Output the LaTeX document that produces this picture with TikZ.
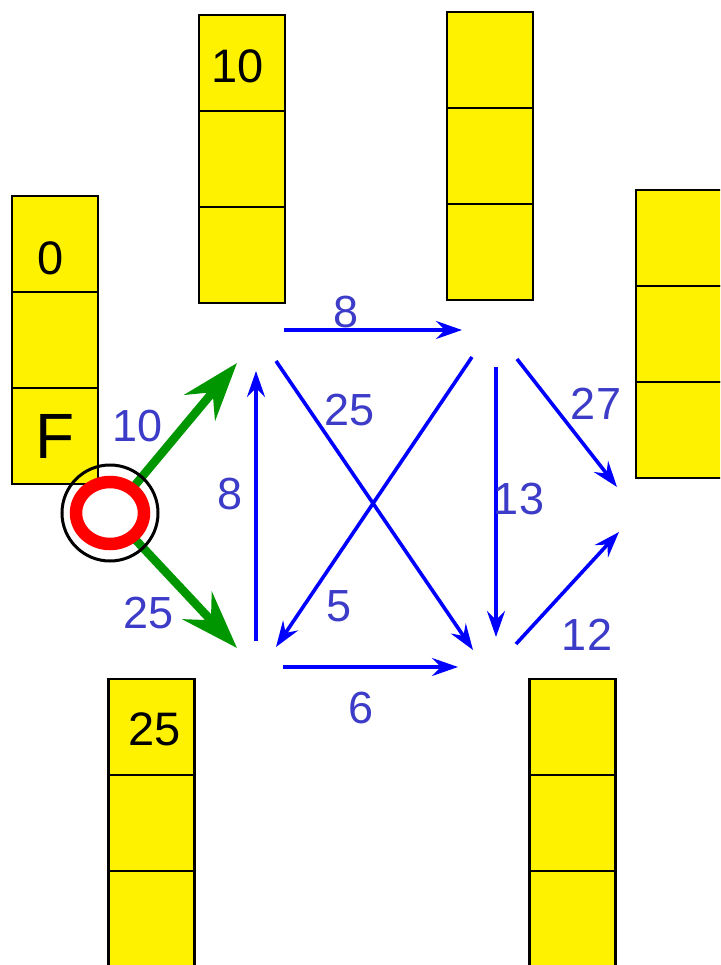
\documentclass[tikz,border=0pt]{standalone}
\usepackage{fontspec}
\setmainfont{Liberation Sans}
\usetikzlibrary{arrows.meta}
\usetikzlibrary{positioning}
\definecolor{numblue}{RGB}{60,60,200}
\definecolor{flowgreen}{RGB}{0,150,0}

\begin{document}
\begin{tikzpicture}[x=1pt, y=-1pt,
    cell/.style={rectangle, draw, fill=yellow, line width=2.6pt, outer sep=0pt, inner sep=0pt,
        minimum width=86pt, minimum height=96pt},
    cellnum/.style={inner sep=0pt, font=\fontsize{47}{50}\selectfont},
    num/.style={numblue, inner sep=0pt, font=\fontsize{45}{50}\selectfont},
    flow/.style={blue, line width=3.6pt, -{Stealth[length=26pt, width=18pt, inset=9pt]}},
    bigflow/.style={flowgreen, line width=8.5pt, -{Stealth[length=58pt, width=40pt, inset=20pt]}}
]
\useasboundingbox (0,0) rectangle (720,965);
\clip (0,0) rectangle (720,965);

% Define boxes
\foreach \n/\x/\y in {a/55/244, b/242/63, c/490/60, d/679/238, e/151.5/727, f/572.5/727} {
    \node[cell] (\n1) at (\x,\y) {};
    \node[cell, below=0pt of \n1] (\n2) {};
    \node[cell, below=0pt of \n2] (\n3) {};
}
\node[cellnum, xshift=-4pt, yshift=-14pt] (t-a) at (a1) {0};
\node[cellnum, font=\fontsize{64}{70}\selectfont] (t-f) at (a3) {F};
\node[cellnum, xshift=-4pt, yshift=-3pt] (t-b) at (b1) {10};
\node[cellnum, xshift=3pt, yshift=-2pt] (t-e) at (e1) {25};

% Define points
\coordinate (s-t) at (131,490);
\coordinate (s-b) at (132,536);
\coordinate (vb-in) at (237,363);
\coordinate (vb-up) at (256,371);
\coordinate (vb-r) at (284,330);
\coordinate (vb-x) at (276,361);
\coordinate (vc-l) at (462,330);
\coordinate (vc-x) at (472,357);
\coordinate (vc-dn) at (496,367);
\coordinate (vc-r) at (517,359);
\coordinate (ve-in) at (237,648);
\coordinate (ve-up) at (256,641);
\coordinate (ve-x) at (276,647);
\coordinate (ve-r) at (283,667);
\coordinate (vf-l) at (458,667);
\coordinate (vf-x) at (473,650);
\coordinate (vf-dn) at (496,637);
\coordinate (vf-r) at (516,644);
\coordinate (vd-t) at (617,487);
\coordinate (vd-b) at (619,532);

% Define edges
\draw[bigflow] (s-t) -- (vb-in);
\draw[bigflow] (s-b) -- (ve-in);
\draw[flow] (vb-r) -- (vc-l);
\draw[flow] (ve-up) -- (vb-up);
\draw[flow] (vb-x) -- (vf-x);
\draw[flow] (vc-x) -- (ve-x);
\draw[flow] (vc-dn) -- (vf-dn);
\draw[flow] (vc-r) -- (vd-t);
\draw[flow] (ve-r) -- (vf-l);
\draw[flow] (vf-r) -- (vd-b);

% Start point
\node[circle, draw, line width=3pt, minimum size=96pt, inner sep=0pt] (s) at (110,513) {};
\draw[red, line width=12.5pt] (s.center) ellipse [x radius=34, y radius=31];

% Edge weights
\node[num] (w-sb) at (138,426) {10};
\node[num] (w-se) at (149,613) {25};
\node[num] (w-bc) at (346,312) {8};
\node[num] (w-eb) at (230,494) {8};
\node[num] (w-bf) at (350,410) {25};
\node[num] (w-ce) at (339,606) {5};
\node[num] (w-cf) at (519,499) {13};
\node[num] (w-cd) at (596,404) {27};
\node[num] (w-ef) at (361,708) {6};
\node[num] (w-fd) at (587,635) {12};

\end{tikzpicture}
\end{document}
